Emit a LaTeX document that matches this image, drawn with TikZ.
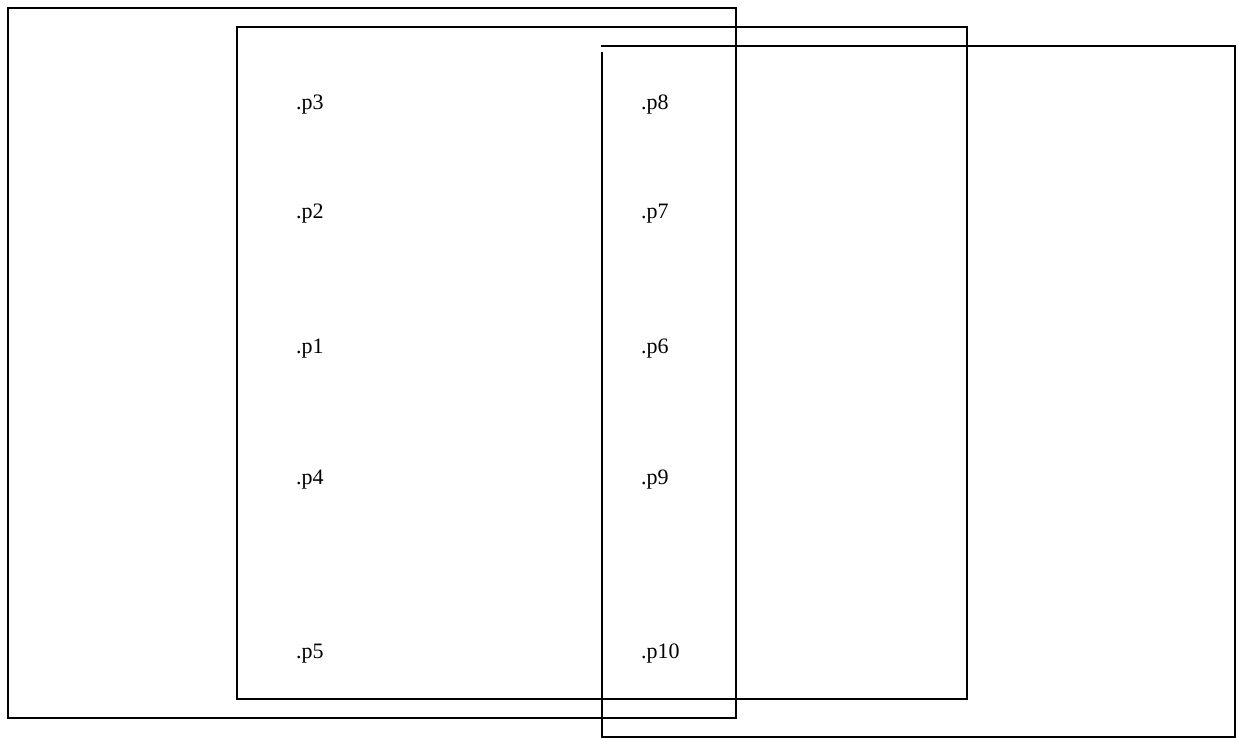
\documentclass[tikz,border=0pt]{standalone}
\usepackage{fontspec}
\setmainfont{Liberation Serif}
\begin{document}
\begin{tikzpicture}[x=1pt,y=-1pt,
  frame/.style={draw=black,line width=1.6pt},
  lbl/.style={anchor=base west,inner sep=0pt,font=\fontsize{22}{26}\selectfont}]
\useasboundingbox (0,0) rectangle (1238,738);
\draw[frame] (8,8) rectangle (736,718);
\draw[frame] (237,27) rectangle (967,699);
\draw[frame] (601,46) -- (1235,46) -- (1235,737) -- (602,737) -- (602,52);
\node[lbl] (p3) at (296,110) {.p3};
\node[lbl] (p2) at (296,218) {.p2};
\node[lbl] (p1) at (296,353) {.p1};
\node[lbl] (p4) at (296,484) {.p4};
\node[lbl] (p5) at (296,658) {.p5};
\node[lbl] (p8) at (641,110) {.p8};
\node[lbl] (p7) at (641,218) {.p7};
\node[lbl] (p6) at (641,353) {.p6};
\node[lbl] (p9) at (641,484) {.p9};
\node[lbl] (p10) at (641,658) {.p10};
\end{tikzpicture}
\end{document}
